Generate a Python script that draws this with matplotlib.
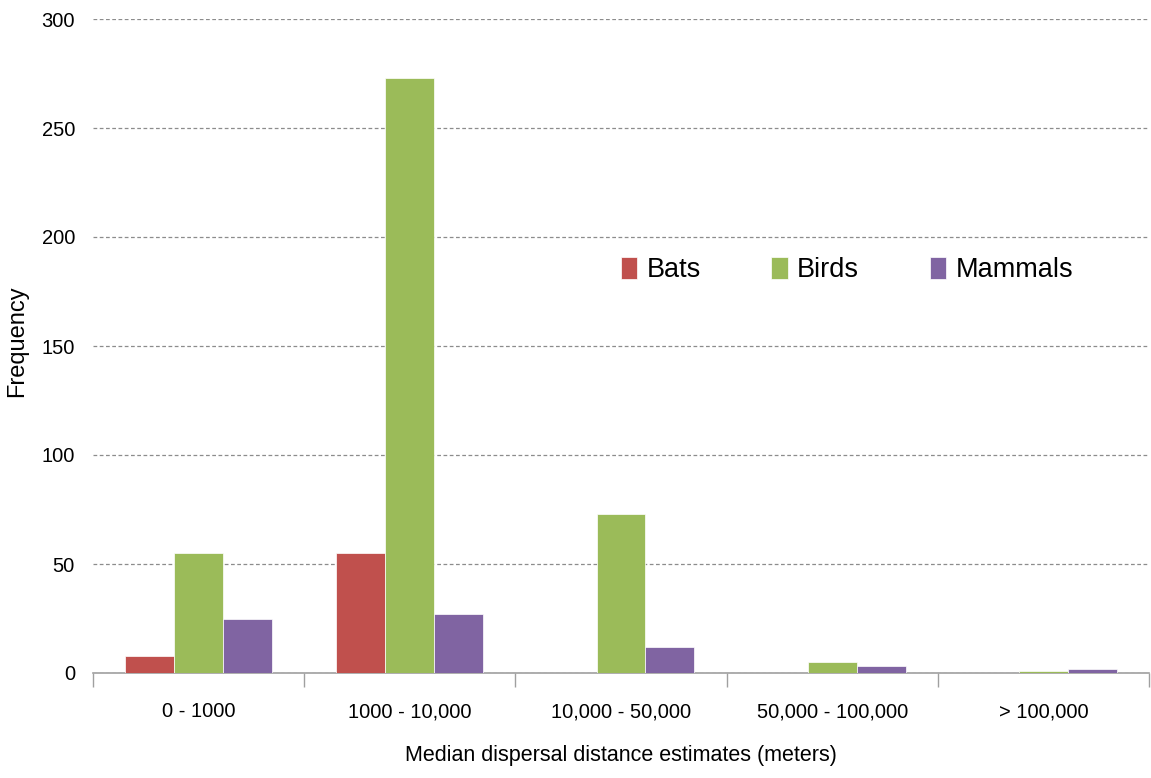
import numpy as np
from matplotlib import pyplot as plt

categories = ['0 - 1000', '1000 - 10,000', '10,000 - 50,000', '50,000 - 100,000', '> 100,000']
bats = [8, 55, 0, 0, 0]
birds = [55, 273, 73, 5, 1]
mammals = [25, 27, 12, 3, 2]

plt.rcParams['font.family'] = ['Liberation Sans', 'DejaVu Sans']

fig = plt.figure(figsize=(11.51, 7.78), dpi=100)
ax = fig.add_axes([93 / 1151, 105 / 778, 1056 / 1151, 654 / 778])

x = np.arange(len(categories))
w = 0.232
ax.bar(x - w, bats, w, color='#C0504D', edgecolor='white', linewidth=0.5, label='Bats', zorder=3)
ax.bar(x, birds, w, color='#9BBB59', edgecolor='white', linewidth=0.5, label='Birds', zorder=3)
ax.bar(x + w, mammals, w, color='#8064A2', edgecolor='white', linewidth=0.5, label='Mammals', zorder=3)

ax.set_xlim(-0.5, len(categories) - 0.5)
ax.set_ylim(0, 300)
ax.set_yticks(range(0, 301, 50))
ax.yaxis.grid(True, linestyle=(0, (3, 2)), color='#8c8c8c', linewidth=0.9)
ax.set_axisbelow(True)

ax.set_xticks(x)
ax.set_xticklabels(categories)
ax.set_xticks(np.arange(-0.5, len(categories)), minor=True)
ax.tick_params(axis='x', which='major', length=0, labelsize=14.5, pad=21)
ax.tick_params(axis='x', which='minor', length=10, color='#a0a0a0', width=1)
ax.tick_params(axis='y', length=0, labelsize=14.5, pad=13)

for s in ['top', 'right', 'left']:
    ax.spines[s].set_visible(False)
ax.spines['bottom'].set_color('#a0a0a0')
ax.spines['bottom'].set_linewidth(1.2)

ax.set_xlabel('Median dispersal distance estimates (meters)', fontsize=15.5, labelpad=17)
ax.set_ylabel('Frequency', fontsize=17)
ax.yaxis.set_label_coords(-0.061, 0.508)

ax.legend(loc='center left', bbox_to_anchor=(0.5, 0.616), ncol=3, frameon=False,
          fontsize=19.5, handlelength=0.6, handleheight=0.85, columnspacing=2.6,
          handletextpad=0.35, borderpad=0, borderaxespad=0)

plt.savefig('out.png', dpi=100)
